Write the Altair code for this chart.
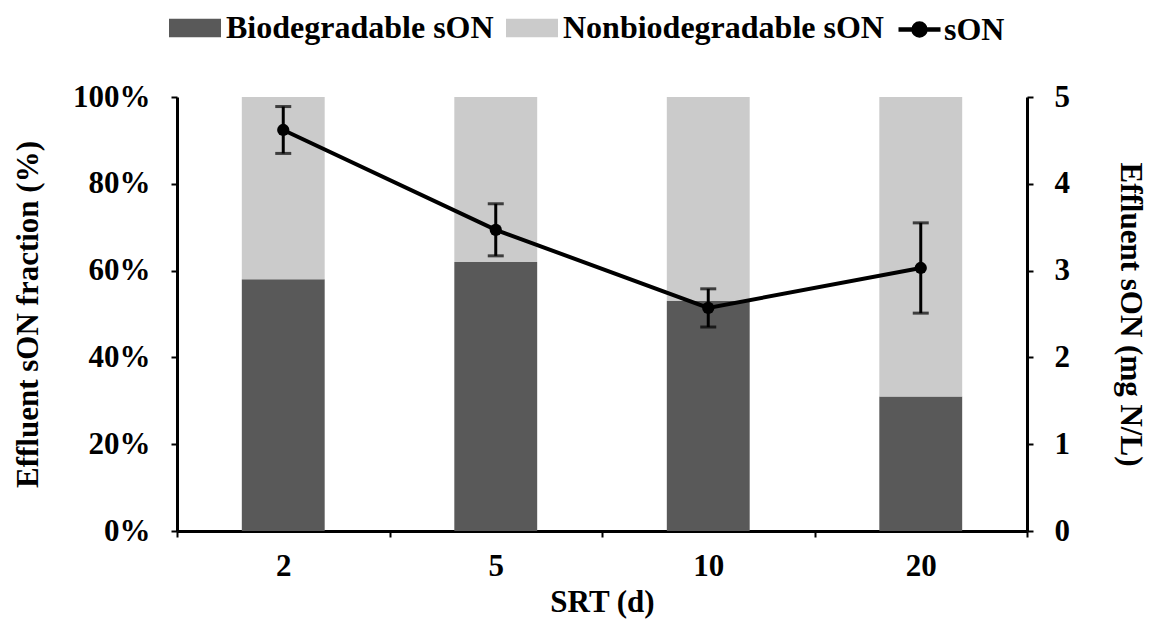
import altair as alt
import pandas as pd

# ---- data ----
srt = ["2", "5", "10", "20"]
bio_frac = [0.58, 0.62, 0.53, 0.31]
nonbio_frac = [0.42, 0.38, 0.47, 0.69]
son_mean = [4.62, 3.47, 2.57, 3.03]
son_err = [0.27, 0.30, 0.22, 0.52]

series = ["Biodegradable sON", "Nonbiodegradable sON"]
bar_colors = ["#595959", "#cbcbcb"]

rows = []
for i, s in enumerate(srt):
    rows.append({"SRT": s, "type": series[0], "frac": bio_frac[i], "ord": 0})
    rows.append({"SRT": s, "type": series[1], "frac": nonbio_frac[i], "ord": 1})
bar_df = pd.DataFrame(rows)

line_df = pd.DataFrame({
    "SRT": srt,
    "son": son_mean,
    "lo": [m - e for m, e in zip(son_mean, son_err)],
    "hi": [m + e for m, e in zip(son_mean, son_err)],
    "series": ["sON"] * len(srt),
})

FONT = "Liberation Serif"
FS = 31
LFS = 32

x_axis = alt.Axis(title="SRT (d)", labelAngle=0, tickBand="extent", tickSize=6,
                  labelPadding=14, titlePadding=6)
x_enc = alt.X("SRT:N", sort=srt, scale=alt.Scale(paddingInner=0, paddingOuter=0), axis=x_axis)

left_axis = alt.Axis(title="Effluent sON fraction (%)", format=".0%",
                     values=[0, 0.2, 0.4, 0.6, 0.8, 1.0], tickSize=6,
                     labelPadding=21, titlePadding=28)
right_axis = alt.Axis(title="Effluent sON (mg N/L)", orient="right", format="d",
                      values=[0, 1, 2, 3, 4, 5], tickSize=6,
                      labelPadding=21, titlePadding=44)

bars = alt.Chart(bar_df).mark_bar(width=alt.RelativeBandSize(0.39)).encode(
    x=x_enc,
    y=alt.Y("frac:Q", stack="zero", scale=alt.Scale(domain=[0, 1]), axis=left_axis),
    order=alt.Order("ord:Q"),
    color=alt.Color("type:N", scale=alt.Scale(domain=series, range=bar_colors),
                    legend=alt.Legend(title=None, orient="none", legendX=2, legendY=-85,
                                      direction="horizontal",
                                      symbolType="M-1.733,-0.62H1.733V0.62H-1.733Z", symbolSize=900,
                                      symbolStrokeWidth=0, symbolOpacity=1,
                                      labelFont=FONT, labelFontSize=LFS, labelFontWeight="bold",
                                      labelColor="black", labelOffset=15, columnPadding=12,
                                      padding=0, labelLimit=0)),
)

y_right = alt.Y("son:Q", scale=alt.Scale(domain=[0, 5]), axis=right_axis)

line = alt.Chart(line_df).mark_line(strokeWidth=4).encode(
    x=x_enc,
    y=y_right,
    stroke=alt.Stroke("series:N", scale=alt.Scale(domain=["sON"], range=["black"]),
                      legend=alt.Legend(title=None, orient="none", legendX=725, legendY=-85,
                                        symbolType="M-1.4,0H1.4M-0.4,0A0.4,0.4 0 1,1 0.4,0A0.4,0.4 0 1,1 -0.4,0Z",
                                        symbolSize=900, symbolStrokeWidth=4.5,
                                        symbolFillColor="black", symbolStrokeColor="black",
                                        labelFont=FONT, labelFontSize=LFS, labelFontWeight="bold",
                                        labelColor="black", labelOffset=7, padding=0, labelLimit=0)),
)

points = alt.Chart(line_df).mark_point(filled=True, size=150, color="black", opacity=1).encode(
    x=x_enc, y=y_right)

err = alt.Chart(line_df).mark_rule(strokeWidth=3, color="black").encode(
    x=x_enc,
    y=alt.Y("lo:Q", scale=alt.Scale(domain=[0, 5]), axis=right_axis),
    y2="hi:Q",
)
cap_hi = alt.Chart(line_df).mark_tick(orient="horizontal", size=16, thickness=3, color="black").encode(
    x=x_enc, y=alt.Y("hi:Q", scale=alt.Scale(domain=[0, 5]), axis=right_axis))
cap_lo = alt.Chart(line_df).mark_tick(orient="horizontal", size=16, thickness=3, color="black").encode(
    x=x_enc, y=alt.Y("lo:Q", scale=alt.Scale(domain=[0, 5]), axis=right_axis))

right_group = alt.layer(err, cap_hi, cap_lo, line, points)

chart = alt.layer(bars, right_group).resolve_scale(
    y="independent", color="independent", stroke="independent"
).properties(
    width=850, height=434,
    autosize=alt.AutoSizeParams(type="none"),
    padding={"left": 169, "top": 89, "right": 121, "bottom": 88},
).configure_view(stroke=None).configure_axis(
    grid=False,
    domainColor="black", domainWidth=3,
    tickColor="black", tickWidth=2,
    labelFont=FONT, labelFontSize=FS, labelFontWeight="bold", labelColor="black",
    titleFont=FONT, titleFontSize=FS, titleFontWeight="bold", titleColor="black",
).configure_legend(
    labelFont=FONT, labelFontSize=LFS, labelFontWeight="bold", labelColor="black",
)

chart.save("out.html", embed_options={"renderer": "svg", "actions": False})
